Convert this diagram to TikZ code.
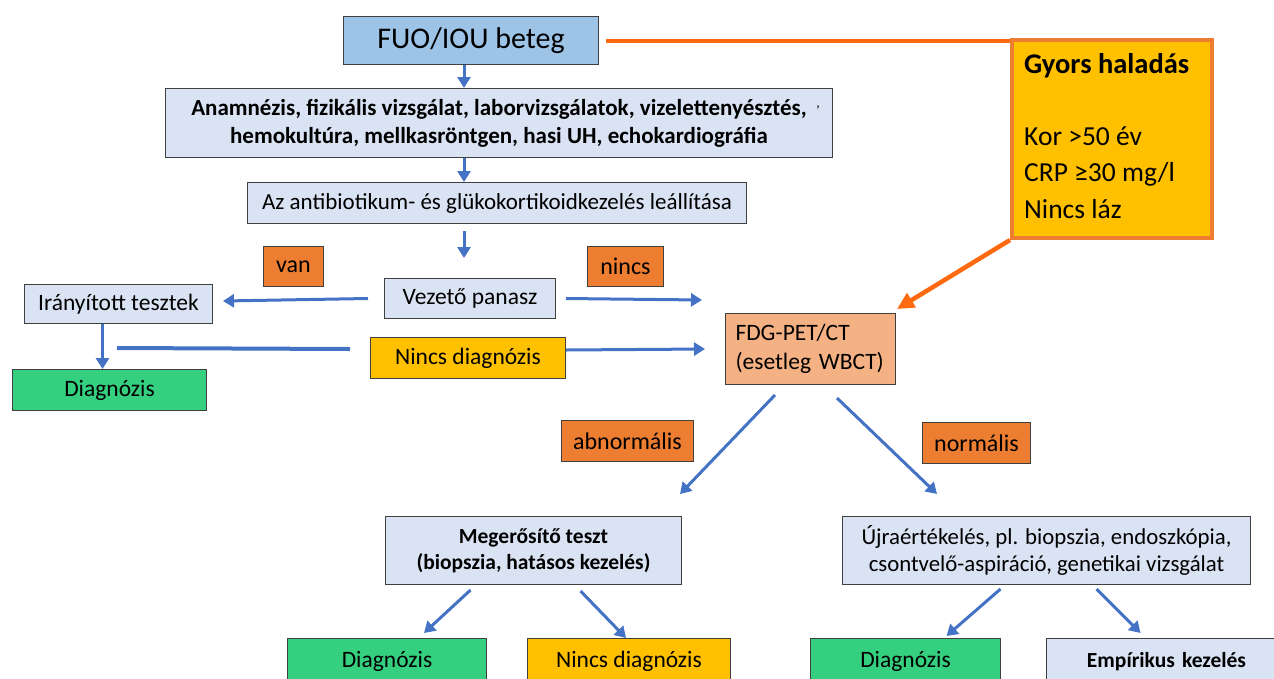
\documentclass[tikz,border=0pt]{standalone}
\usepackage{fontspec}
\setmainfont{Carlito}
\usetikzlibrary{arrows.meta,calc}
\definecolor{bluefill}{HTML}{9DC3E6}
\definecolor{lightfill}{HTML}{DAE3F3}
\definecolor{orangelab}{HTML}{ED7D31}
\definecolor{peach}{HTML}{F4B183}
\definecolor{gold}{HTML}{FFC000}
\definecolor{greenbox}{HTML}{35D07F}
\definecolor{arrowblue}{HTML}{4472C4}
\definecolor{brightorange}{HTML}{FF6A10}
\newcommand{\fs}[1]{\fontsize{#1}{1.22\dimexpr#1pt\relax}\selectfont}
\tikzset{
  box/.style={draw=black!75, line width=1pt, anchor=north west, inner sep=2pt, align=center},
  lab/.style={box, fill=orangelab, font=\fs{24}},
  reg/.style={font=\fs{23.5}},
  bld/.style={font=\bfseries\fs{21.5}},
  arr/.style={draw=arrowblue, line width=3pt, -{Triangle[length=11pt,width=13pt]}},
  bar/.style={draw=arrowblue, line width=4pt},
  oarr/.style={draw=brightorange, line width=4.5pt, -{Triangle[length=17pt,width=16pt]}},
  gtxt/.style={anchor=base west, inner sep=0pt, font=\fs{27.5}},
}
\begin{document}
\begin{tikzpicture}[x=1pt,y=-1pt]
\useasboundingbox (0,0) rectangle (1274,678);
\clip (0,0) rectangle (1274,678);
% nodes
\node[box, fill=bluefill, minimum width=255pt, minimum height=48pt, font=\fs{30}] (fuo) at (343,16) {FUO/IOU beteg};
\node[box, fill=lightfill, minimum width=667pt, minimum height=69pt, font=\bfseries\fs{23}] (anam) at (165,88)
  {Anamnézis, fizikális vizsgálat, laborvizsgálatok, vizelettenyésztés,\\hemokultúra, mellkasröntgen, hasi UH, echokardiográfia};
\node[font=\fs{14}] (comma) at (818,108) {,};
\node[box, fill=lightfill, minimum width=499pt, minimum height=41pt, font=\fs{23}] (az) at (247,182) {Az antibiotikum- és glükokortikoidkezelés leállítása};
\node[box, fill=lightfill, minimum width=171pt, minimum height=40pt, reg] (vez) at (384,278) {Vezető panasz};
\node[lab, minimum width=60pt, minimum height=40pt] (van) at (263,246) {van};
\node[lab, minimum width=76pt, minimum height=40pt] (nincs) at (587,246) {nincs};
\node[box, fill=lightfill, minimum width=188pt, minimum height=39pt, reg] (iran) at (24,284) {Irányított tesztek};
\node[box, fill=peach, minimum width=170pt, minimum height=71pt, reg, align=left, text width=150pt] (fdg) at (725,313) {FDG-PET/CT\\(esetleg WBCT)};
\node[box, fill=gold, minimum width=195pt, minimum height=41pt, reg] (nincsd) at (370,337) {Nincs diagnózis};
\node[box, fill=greenbox, minimum width=194pt, minimum height=41pt, reg] (diag1) at (12,369) {Diagnózis};
\node[draw=orangelab, line width=4pt, fill=gold, anchor=north west, minimum width=200pt, minimum height=198pt, inner sep=0pt] (gyors) at (1010,38) {};
\node[gtxt, font=\bfseries\fs{28.5}] (g1) at (1024,73) {Gyors haladás};
\node[gtxt] (g2) at (1024,145) {Kor >50 év};
\node[gtxt] (g3) at (1024,181.5) {CRP ≥30 mg/l};
\node[gtxt] (g4) at (1024,218) {Nincs láz};
\node[lab, minimum width=132pt, minimum height=41pt] (abn) at (561,420) {abnormális};
\node[lab, minimum width=108pt, minimum height=41pt] (norm) at (922,422) {normális};
\node[box, fill=lightfill, minimum width=296pt, minimum height=68pt, bld] (meg) at (385,516) {Megerősítő teszt\\(biopszia, hatásos kezelés)};
\node[box, fill=lightfill, minimum width=408pt, minimum height=68pt, font=\fs{22.8}] (ujra) at (842,516) {Újraértékelés, pl. biopszia, endoszkópia,\\csontvelő-aspiráció, genetikai vizsgálat};
\node[box, fill=greenbox, minimum width=199pt, minimum height=46pt, reg] (d2) at (287,638) {Diagnózis};
\node[box, fill=gold, minimum width=203pt, minimum height=46pt, reg] (nd2) at (527,638) {Nincs diagnózis};
\node[box, fill=greenbox, minimum width=190pt, minimum height=46pt, reg] (d3) at (810,638) {Diagnózis};
\node[box, fill=lightfill, minimum width=240pt, minimum height=46pt, bld, text width=220pt] (emp) at (1046,638) {Empírikus kezelés\hspace*{12pt}};
% connectors
\draw[arr] (fuo.south -| 464,0) -- (anam.north -| 464,0);
\draw[arr] (anam.south -| 464,0) -- (az.north -| 464,0);
\draw[arr, shorten <=7pt, shorten >=20pt] (az.south -| 464,0) -- (vez.north -| 464,0);
\draw[arr] ($(vez.west)+(-16,0)$) -- ($(iran.east)+(10,-3)$);
\coordinate (vezr) at (702,300);
\draw[arr] ($(vez.east)+(10,0)$) -- (vezr);
\draw[arr] ($(iran.south)+(-16,0)$) -- ($(diag1.north)+(-7,0)$);
\coordinate (barstart) at (117,348);
\draw[bar] (barstart) -- ($(nincsd.west)+(-20,-9)$);
\coordinate (nincsr) at (705,349);
\draw[arr] ($(nincsd.east)+(0,-8)$) -- (nincsr);
\draw[draw=brightorange, line width=4pt] ($(fuo.east)+(7,0)$) -- (fuo.east -| gyors.west);
\draw[oarr] (gyors.south west) -- ($(fdg.north east)+(1,-4)$);
\coordinate (f1) at (775,395);
\coordinate (f2) at (837,398);
\coordinate (megtop) at (680,494);
\coordinate (ujratop) at (937,494);
\draw[arr] (f1) -- (megtop);
\draw[arr] (f2) -- (ujratop);
\draw[arr] ($(meg.south)+(-63,5)$) -- ($(d2.north)+(37,-5)$);
\draw[arr] ($(meg.south)+(47,6)$) -- ($(nd2.north)+(-3,0)$);
\draw[arr] ($(ujra.south)+(-46,4)$) -- ($(d3.north)+(41,-2)$);
\draw[arr] ($(ujra.south)+(50,4)$) -- ($(emp.north)+(-26,-5)$);
\end{tikzpicture}
\end{document}
